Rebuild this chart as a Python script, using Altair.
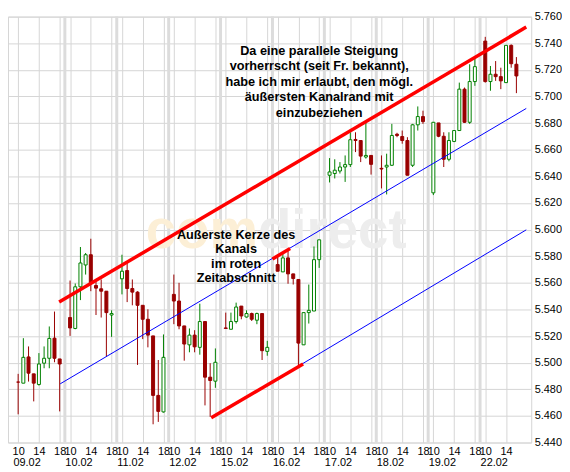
import altair as alt
import pandas as pd

# ---------------- data ----------------
dates = ["09.02", "10.02", "11.02", "12.02", "15.02", "16.02", "17.02", "18.02", "19.02", "22.02"]
candles_per_day = [9, 9, 9, 9, 9, 9, 9, 9, 9, 7]
first_hour = 10          # first hourly candle of each day
day_start_hour = 9       # each trading day spans 9:00 - 19:00 on the axis
hour_labels = [10, 14, 18]

open_ = [
    5.4854, 5.4846, 5.5043, 5.4916, 5.4836, 5.4996, 5.5033, 5.5184, 5.5028,
    5.5339, 5.5257, 5.5570, 5.5734, 5.5811, 5.5580, 5.5555, 5.5537, 5.5358,
    5.5630, 5.5692, 5.5557, 5.5530, 5.5431, 5.5326, 5.5201, 5.4754, 5.4630,
    5.5513, 5.5463, 5.5276, 5.5134, 5.5207, 5.5115, 5.5309, 5.4891, 5.4861,
    5.5261, 5.5251, 5.5309, 5.5425, 5.5343, 5.5369, 5.5319, 5.5369, 5.5085,
    5.5737, 5.5682, 5.5787, 5.5667, 5.5625, 5.5134, 5.5376, 5.5388, 5.5774,
    5.6408, 5.6421, 5.6440, 5.6470, 5.6488, 5.6677, 5.6669, 5.6545, 5.6557,
    5.6460, 5.6470, 5.6483, 5.6716, 5.6699, 5.6669, 5.6483, 5.6787, 5.6849,
    5.6276, 5.6801, 5.6701, 5.6528, 5.6662, 5.6744, 5.7055, 5.6806, 5.7112,
    5.7416, 5.7112, 5.7167, 5.7149, 5.7104, 5.7384, 5.7242,
]
high = [
    5.4916, 5.5184, 5.5122, 5.4916, 5.5072, 5.5122, 5.5272, 5.5384, 5.5028,
    5.5617, 5.5595, 5.5869, 5.5824, 5.5931, 5.5625, 5.5625, 5.5537, 5.5393,
    5.5811, 5.5749, 5.5625, 5.5537, 5.5431, 5.5401, 5.5201, 5.5020, 5.5212,
    5.5662, 5.5600, 5.5276, 5.5257, 5.5244, 5.5443, 5.5309, 5.4996, 5.5107,
    5.5376, 5.5376, 5.5451, 5.5425, 5.5393, 5.5376, 5.5376, 5.5369, 5.5164,
    5.5799, 5.5824, 5.5849, 5.5667, 5.5625, 5.5376, 5.5587, 5.5873, 5.5923,
    5.6537, 5.6528, 5.6507, 5.6557, 5.6731, 5.6731, 5.6669, 5.6811, 5.6557,
    5.6557, 5.6570, 5.6794, 5.6727, 5.6744, 5.6694, 5.6794, 5.6925, 5.6893,
    5.6806, 5.6801, 5.6731, 5.6731, 5.6744, 5.7104, 5.7067, 5.7242, 5.7291,
    5.7448, 5.7229, 5.7266, 5.7216, 5.7384, 5.7391, 5.7296,
]
low = [
    5.4612, 5.4846, 5.4858, 5.4709, 5.4828, 5.4958, 5.4958, 5.5003, 5.4634,
    5.5201, 5.5251, 5.5470, 5.5662, 5.5537, 5.5358, 5.5339, 5.5048, 5.5194,
    5.5513, 5.5455, 5.5431, 5.4983, 5.5177, 5.5115, 5.4537, 5.4555, 5.4625,
    5.5289, 5.5251, 5.5015, 5.5078, 5.5078, 5.5060, 5.4679, 5.4593, 5.4811,
    5.5257, 5.5251, 5.5294, 5.5326, 5.5339, 5.5313, 5.5289, 5.5020, 5.5052,
    5.5687, 5.5682, 5.5593, 5.5587, 5.4978, 5.5134, 5.5294, 5.5388, 5.5712,
    5.6354, 5.6384, 5.6421, 5.6358, 5.6470, 5.6582, 5.6507, 5.6533, 5.6413,
    5.6309, 5.6264, 5.6478, 5.6694, 5.6645, 5.6408, 5.6470, 5.6744, 5.6794,
    5.6259, 5.6694, 5.6470, 5.6513, 5.6657, 5.6744, 5.6801, 5.6794, 5.7080,
    5.7104, 5.7043, 5.7117, 5.7055, 5.7104, 5.7216, 5.7025,
]
close = [
    5.4854, 5.5040, 5.4921, 5.4846, 5.4990, 5.5033, 5.5182, 5.5033, 5.4990,
    5.5261, 5.5570, 5.5749, 5.5811, 5.5600, 5.5560, 5.5537, 5.5376, 5.5369,
    5.5687, 5.5557, 5.5530, 5.5431, 5.5326, 5.5207, 5.4754, 5.4634, 5.5040,
    5.5463, 5.5276, 5.5140, 5.5207, 5.5119, 5.5309, 5.4891, 5.4866, 5.5003,
    5.5257, 5.5309, 5.5418, 5.5351, 5.5369, 5.5326, 5.5369, 5.5090, 5.5115,
    5.5687, 5.5787, 5.5667, 5.5632, 5.5147, 5.5376, 5.5393, 5.5774, 5.5923,
    5.6433, 5.6446, 5.6470, 5.6488, 5.6675, 5.6669, 5.6552, 5.6557, 5.6490,
    5.6455, 5.6483, 5.6707, 5.6707, 5.6669, 5.6408, 5.6787, 5.6849, 5.6811,
    5.6806, 5.6701, 5.6528, 5.6669, 5.6744, 5.7055, 5.6806, 5.7112, 5.7224,
    5.7112, 5.7167, 5.7149, 5.7117, 5.7384, 5.7246, 5.7154,
]

# drawn trend lines: start (time index, price) -> end (time index, price)
red_t1 = [8.9, 50.0, 38.2]
red_v1 = [5.5455, 5.5779, 5.4587]
red_t2 = [98.9, 53.4, 55.9]
red_v2 = [5.7521, 5.5858, 5.4990]
blue_t1 = [9.1, 55.4]
blue_v1 = [5.4841, 5.4983]
blue_t2 = [98.9, 98.9]
blue_v2 = [5.6910, 5.5998]

y_ticks = [5.44, 5.46, 5.48, 5.50, 5.52, 5.54, 5.56, 5.58, 5.60,
           5.62, 5.64, 5.66, 5.68, 5.70, 5.72, 5.74, 5.76]

note1 = "Da eine parallele Steigung\nvorherrscht (seit Fr. bekannt),\nhabe ich mir erlaubt, den mögl.\näußersten Kanalrand mit\neinzubeziehen"
note2 = "Außerste Kerze des\nKanals\nim roten\nZeitabschnitt"

# ---------------- tables ----------------
HOURS_PER_DAY = 10
X_MAX = 98.9
rows = []
i = 0
for d, n in enumerate(candles_per_day):
    for k in range(n):
        h = first_hour + k
        rows.append(dict(t=d * HOURS_PER_DAY + h - day_start_hour,
                         o=open_[i], h=high[i], l=low[i], c=close[i],
                         dir="up" if close[i] > open_[i] else "down"))
        i += 1
df = pd.DataFrame(rows)

hour_ticks = [d * HOURS_PER_DAY + h - day_start_hour
              for d in range(len(dates)) for h in hour_labels
              if d * HOURS_PER_DAY + h - day_start_hour < X_MAX]
day_ticks = [d * HOURS_PER_DAY for d in range(len(dates))]
sep_df = pd.DataFrame({"t": day_ticks[1:]})
red_df = pd.DataFrame({"t1": red_t1, "v1": red_v1, "t2": red_t2, "v2": red_v2})
blue_df = pd.DataFrame({"t1": blue_t1, "v1": blue_v1, "t2": blue_t2, "v2": blue_v2})
# anchor = centre of the first text line
note1_df = pd.DataFrame({"t": [59.0], "v": [5.7341], "txt": [note1]})
note2_df = pd.DataFrame({"t": [43.0], "v": [5.5960], "txt": [note2]})
wm_df = pd.DataFrame({"t": [47.2], "v": [5.5863]})

FONT = "Liberation Sans"
GRID = "#d6d6d6"

xs = alt.Scale(domain=[0, X_MAX], nice=False, zero=False)
ys = alt.Scale(domain=[5.44, 5.76], nice=False, zero=False)

dates_js = "[" + ",".join("'%s'" % s for s in dates) + "]"

hour_axis = alt.Axis(values=hour_ticks, labelExpr="'' + ((datum.value % 10) + 9)",
                     grid=True, gridColor=GRID, gridWidth=1, ticks=False, domain=False,
                     labelPadding=3, labelFontSize=11, labelFont=FONT, labelColor="black",
                     labelOverlap=False, labelFlush=False, labelAngle=0, title=None,
                     orient="bottom")
date_axis = alt.Axis(values=day_ticks, labelExpr=dates_js + "[round(datum.value / 10)]",
                     grid=False, ticks=False, domain=False, labelAlign="left",
                     labelPadding=14, labelFontSize=11, labelFont=FONT, labelColor="black",
                     labelOverlap=False, labelFlush=False, labelAngle=0, title=None,
                     orient="bottom")
y_axis = alt.Axis(values=y_ticks, format=".3f", orient="right", grid=True, gridColor=GRID,
                  ticks=False, domain=False, labelPadding=3, labelFontSize=11,
                  labelFont=FONT, labelColor="black", title=None, labelFlush=False)


def Y(field):
    return alt.Y(field, scale=ys, axis=y_axis)


def X(field):
    return alt.X(field, scale=xs, axis=None)


sep = alt.Chart(sep_df).mark_rule(color="#dcdcdc", strokeWidth=3).encode(
    x=alt.X("t:Q", scale=xs, axis=date_axis))

wm_com = alt.Chart(wm_df).mark_text(text="com", align="right", baseline="alphabetic",
                                    font=FONT, fontSize=55, fontWeight="bold",
                                    color="#fcefd6").encode(x=X("t:Q"), y=Y("v:Q"))
wm_direct = alt.Chart(wm_df).mark_text(text="direct", align="left", baseline="alphabetic",
                                       font=FONT, fontSize=55, fontWeight="bold",
                                       color="#ededed").encode(x=X("t:Q"), y=Y("v:Q"))

stroke_scale = alt.Scale(domain=["up", "down"], range=["#008000", "#990000"])
fill_scale = alt.Scale(domain=["up", "down"], range=["#ffffff", "#990000"])

wicks = alt.Chart(df).mark_rule(strokeWidth=1).encode(
    x=alt.X("t:Q", scale=xs, axis=hour_axis),
    y=Y("l:Q"), y2="h:Q",
    stroke=alt.Stroke("dir:N", scale=stroke_scale, legend=None))

bodies = alt.Chart(df).mark_bar(size=3, strokeWidth=1).encode(
    x=X("t:Q"), y=Y("o:Q"), y2="c:Q",
    fill=alt.Fill("dir:N", scale=fill_scale, legend=None),
    stroke=alt.Stroke("dir:N", scale=stroke_scale, legend=None))

blue = alt.Chart(blue_df).mark_rule(color="#0000ff", strokeWidth=1).encode(
    x=X("t1:Q"), x2="t2:Q", y=Y("v1:Q"), y2="v2:Q")
red = alt.Chart(red_df).mark_rule(color="#ff0000", strokeWidth=3.5).encode(
    x=X("t1:Q"), x2="t2:Q", y=Y("v1:Q"), y2="v2:Q")

ann1 = alt.Chart(note1_df).mark_text(align="center", baseline="middle", font=FONT,
                                     fontSize=12.8, fontWeight="bold", color="black",
                                     lineBreak="\n", lineHeight=15.5).encode(
    x=X("t:Q"), y=Y("v:Q"), text="txt:N")
ann2 = alt.Chart(note2_df).mark_text(align="center", baseline="middle", font=FONT,
                                     fontSize=12.8, fontWeight="bold", color="black",
                                     lineBreak="\n", lineHeight=14.5).encode(
    x=X("t:Q"), y=Y("v:Q"), text="txt:N")

chart = alt.layer(sep, wm_com, wm_direct, wicks, bodies, blue, red, ann1, ann2).resolve_axis(
    x="independent"
).properties(
    width=527, height=429,
    padding={"left": 0, "top": 1, "right": 0, "bottom": 0},
    background="white",
).configure_view(stroke=GRID)

chart.save("out.html", embed_options={"renderer": "svg", "actions": False})
